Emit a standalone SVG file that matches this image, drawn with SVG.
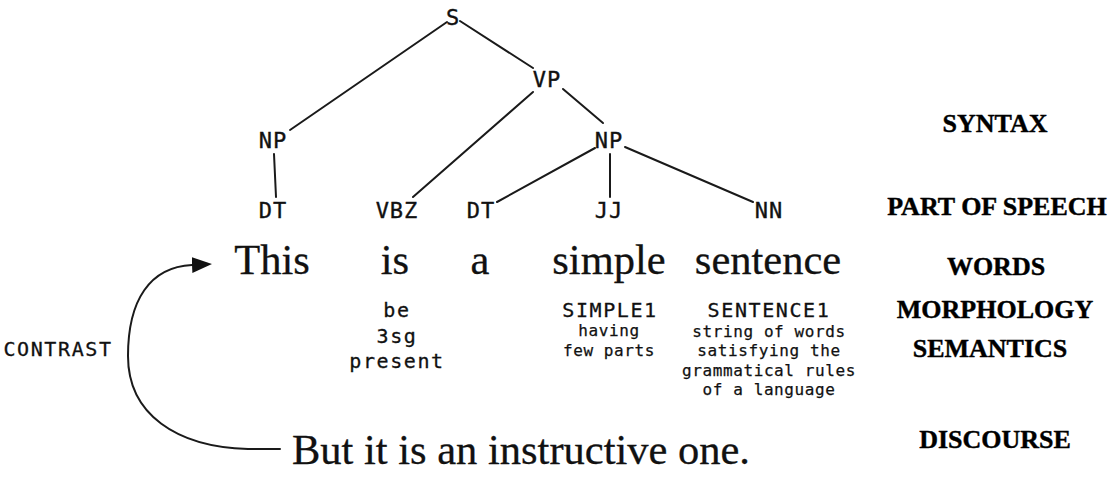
<svg xmlns="http://www.w3.org/2000/svg" width="1110" height="488" viewBox="0 0 1110 488">
  <style>
    .tag { font-family: "DejaVu Sans Mono", "Liberation Mono", monospace; font-size: 22px; letter-spacing: 1px; fill: #111; stroke: #111; stroke-width: 0.35px; text-anchor: middle; }
    .word { font-family: "Liberation Serif", "DejaVu Serif", serif; font-size: 42.5px; fill: #111; stroke: #111; stroke-width: 0.3px; text-anchor: middle; }
    .lemma { font-family: "DejaVu Sans Mono", "Liberation Mono", monospace; font-size: 20px; letter-spacing: 1.6px; fill: #111; stroke: #111; stroke-width: 0.3px; text-anchor: middle; }
    .gloss { font-family: "DejaVu Sans Mono", "Liberation Mono", monospace; font-size: 16px; letter-spacing: 0.6px; fill: #111; stroke: #111; stroke-width: 0.25px; text-anchor: middle; }
    .level { font-family: "Liberation Serif", "DejaVu Serif", serif; font-size: 26px; font-weight: bold; fill: #000; stroke: #000; stroke-width: 0.4px; text-anchor: middle; }
    .edge { stroke: #1a1a1a; stroke-width: 2; fill: none; stroke-linecap: round; }
  </style>
  <defs>
    <marker id="head" viewBox="0 0 20 16" refX="0" refY="8" markerWidth="20" markerHeight="16" markerUnits="userSpaceOnUse" orient="auto">
      <path d="M0,0 L20,8 L0,16 Z" fill="#111"/>
    </marker>
  </defs>

  <rect width="1110" height="488" fill="#fff"/>

  <!-- parse tree branches and the discourse link -->
  <g id="connectors">
    <line class="edge" x1="447" y1="22" x2="290" y2="130"/>
    <line class="edge" x1="460" y1="21" x2="533" y2="68"/>
    <line class="edge" x1="533" y1="92" x2="413" y2="197"/>
    <line class="edge" x1="563" y1="89" x2="603" y2="123"/>
    <line class="edge" x1="274" y1="154" x2="276" y2="197"/>
    <line class="edge" x1="595" y1="148" x2="497" y2="202"/>
    <line class="edge" x1="610" y1="154" x2="610" y2="197"/>
    <line class="edge" x1="625" y1="147" x2="753" y2="202"/>
    <path id="contrast-link" class="edge" d="M280,449 L248,449 C176,447 128,414 128,356 C128,300 150,267 192,265" marker-end="url(#head)"/>
  </g>

  <!-- phrase structure nodes -->
  <g id="node-S"><text class="tag" x="453" y="25">S</text></g>
  <g id="node-VP"><text class="tag" x="547" y="87">VP</text></g>
  <g id="node-NP1"><text class="tag" x="273" y="148">NP</text></g>
  <g id="node-NP2"><text class="tag" x="609" y="148">NP</text></g>

  <!-- part-of-speech tags -->
  <g id="node-DT1"><text class="tag" x="273" y="218">DT</text></g>
  <g id="node-VBZ"><text class="tag" x="397" y="218">VBZ</text></g>
  <g id="node-DT2"><text class="tag" x="481" y="218">DT</text></g>
  <g id="node-JJ"><text class="tag" x="609" y="218">JJ</text></g>
  <g id="node-NN"><text class="tag" x="769" y="218">NN</text></g>

  <!-- surface words -->
  <g id="word-this"><text class="word" x="272" y="274">This</text></g>
  <g id="word-is"><text class="word" x="395" y="274">is</text></g>
  <g id="word-a"><text class="word" x="480" y="274">a</text></g>
  <g id="word-simple"><text class="word" x="609" y="274">simple</text></g>
  <g id="word-sentence"><text class="word" x="768" y="274">sentence</text></g>

  <!-- morphology and sense annotations -->
  <g id="morph-is">
    <text class="lemma" x="397" y="317">be</text>
    <text class="lemma" x="397" y="343">3sg</text>
    <text class="lemma" x="397" y="368">present</text>
  </g>
  <g id="sense-simple">
    <text class="lemma" x="610" y="317">SIMPLE1</text>
    <text class="gloss" x="609" y="336">having</text>
    <text class="gloss" x="609" y="356">few parts</text>
  </g>
  <g id="sense-sentence">
    <text class="lemma" x="769" y="317">SENTENCE1</text>
    <text class="gloss" x="769" y="337">string of words</text>
    <text class="gloss" x="769" y="356">satisfying the</text>
    <text class="gloss" x="769" y="376">grammatical rules</text>
    <text class="gloss" x="769" y="395">of a language</text>
  </g>

  <!-- following sentence -->
  <g id="next-sentence"><text class="word" x="292" y="464" style="text-anchor:start">But it is an instructive one.</text></g>
  <g id="label-contrast"><text class="lemma" x="58" y="356">CONTRAST</text></g>

  <!-- analysis levels -->
  <g id="levels">
    <text class="level" x="995" y="132">SYNTAX</text>
    <text class="level" x="997" y="215">PART OF SPEECH</text>
    <text class="level" x="996" y="275">WORDS</text>
    <text class="level" x="995" y="318">MORPHOLOGY</text>
    <text class="level" x="990" y="357">SEMANTICS</text>
    <text class="level" x="995" y="448">DISCOURSE</text>
  </g>
</svg>
